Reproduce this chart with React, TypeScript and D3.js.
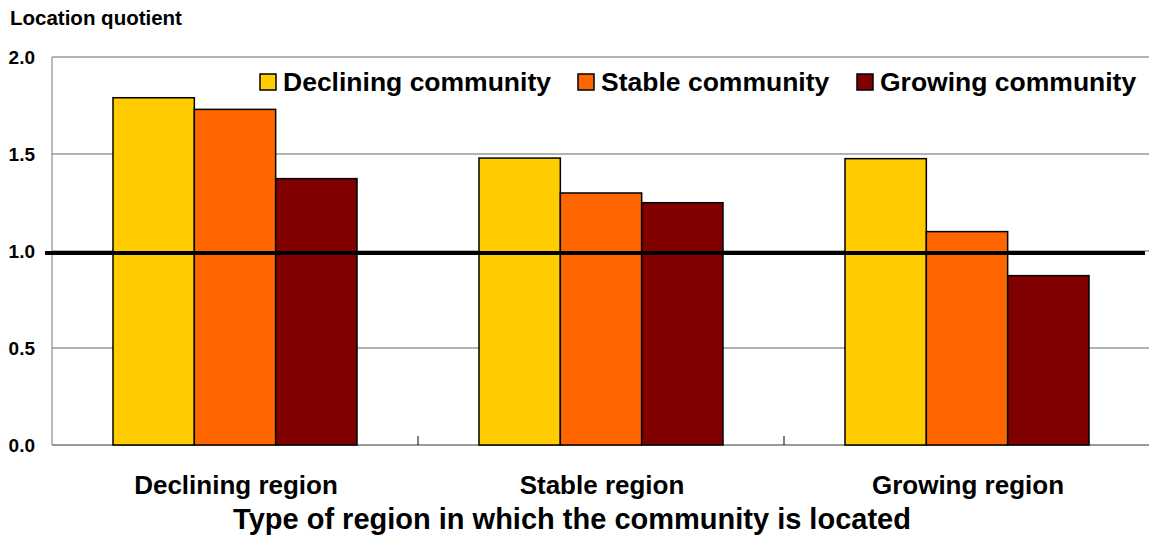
import { useEffect, useRef } from 'react';
import * as d3 from 'd3';

// data
const regions = ['Declining region', 'Stable region', 'Growing region'];
const communities = ['Declining community', 'Stable community', 'Growing community'];
const colors = ['#ffcc00', '#ff6600', '#800000'];
const declining = [1.79, 1.73, 1.373];
const stable = [1.479, 1.299, 1.249];
const growing = [1.476, 1.1, 0.873];
const yTicks = [0, 0.5, 1.0, 1.5, 2.0];
const refLine = 1.0;

const W = 1149;
const H = 543;
const FONT = '"Liberation Sans", Arial, sans-serif';

export default function App() {
  const svgRef = useRef<SVGSVGElement>(null);

  useEffect(() => {
    const svg = d3.select(svgRef.current);
    svg.selectAll('*').remove();

    const m = { top: 57, right: 0, bottom: 98, left: 52 };
    const rows = [declining, stable, growing];

    const x0 = d3.scaleBand().domain(regions).range([m.left, W - m.right + 1]);
    const x1 = d3.scaleBand().domain(communities).range([0, x0.bandwidth()]).paddingOuter(0.75);
    const y = d3.scaleLinear().domain([0, 2]).range([H - m.bottom, m.top]);

    const g = svg.append('g');

    // gridlines
    g.selectAll('line.grid')
      .data(yTicks.filter(t => t > 0))
      .join('line')
      .attr('x1', m.left).attr('x2', W)
      .attr('y1', d => y(d)).attr('y2', d => y(d))
      .attr('stroke', '#666').attr('stroke-width', 1);

    // axes lines
    g.append('line').attr('x1', m.left).attr('x2', m.left)
      .attr('y1', y(2)).attr('y2', y(0)).attr('stroke', '#777');
    g.append('line').attr('x1', m.left).attr('x2', W)
      .attr('y1', y(0)).attr('y2', y(0)).attr('stroke', '#777').attr('stroke-width', 1.5);

    // bars
    const groups = g.selectAll('g.grp')
      .data(rows)
      .join('g')
      .attr('transform', (_, i) => `translate(${x0(regions[i])},0)`);
    groups.selectAll('rect')
      .data(d => d)
      .join('rect')
      .attr('x', (_, j) => x1(communities[j])!)
      .attr('width', x1.bandwidth())
      .attr('y', d => y(d))
      .attr('height', d => y(0) - y(d))
      .attr('fill', (_, j) => colors[j])
      .attr('stroke', '#000')
      .attr('stroke-width', 1.5);

    // category tick marks (inside, at band boundaries)
    g.selectAll('line.xt')
      .data(regions.slice(1))
      .join('line')
      .attr('x1', d => x0(d)!).attr('x2', d => x0(d)!)
      .attr('y1', y(0)).attr('y2', y(0) - 9)
      .attr('stroke', '#000');

    // reference line
    g.append('line').attr('x1', 45).attr('x2', 1145)
      .attr('y1', y(refLine) + 2).attr('y2', y(refLine) + 2)
      .attr('stroke', '#000').attr('stroke-width', 4);

    // y tick labels
    g.selectAll('text.yt')
      .data(yTicks)
      .join('text')
      .attr('x', 35).attr('y', d => y(d) + 7)
      .attr('text-anchor', 'end')
      .attr('font-family', FONT).attr('font-weight', 'bold').attr('font-size', 19)
      .text(d => d.toFixed(1));

    // y axis title
    g.append('text').attr('x', 10).attr('y', 25)
      .attr('font-family', FONT).attr('font-weight', 'bold').attr('font-size', 20.5)
      .text('Location quotient');

    // category labels
    g.selectAll('text.xl')
      .data(regions)
      .join('text')
      .attr('x', d => x0(d)! + x0.bandwidth() / 2 + 1)
      .attr('y', 494)
      .attr('text-anchor', 'middle')
      .attr('font-family', FONT).attr('font-weight', 'bold').attr('font-size', 26)
      .text(d => d);

    // x axis title
    g.append('text').attr('x', 572).attr('y', 529)
      .attr('text-anchor', 'middle')
      .attr('font-family', FONT).attr('font-weight', 'bold').attr('font-size', 29)
      .text('Type of region in which the community is located');

    // legend
    const legX = [260, 578, 857];
    const leg = g.selectAll('g.leg')
      .data(communities)
      .join('g')
      .attr('transform', (_, i) => `translate(${legX[i]},74)`);
    leg.append('rect').attr('width', 16).attr('height', 16)
      .attr('fill', (_, i) => colors[i]).attr('stroke', '#000').attr('stroke-width', 1.5);
    leg.append('text').attr('x', 23).attr('y', 17)
      .attr('font-family', FONT).attr('font-weight', 'bold').attr('font-size', 26.5)
      .text(d => d);
  }, []);

  return (
    <svg
      ref={svgRef}
      width={W}
      height={H}
      style={{ position: 'absolute', left: 0, top: 0, background: '#fff' }}
    />
  );
}
